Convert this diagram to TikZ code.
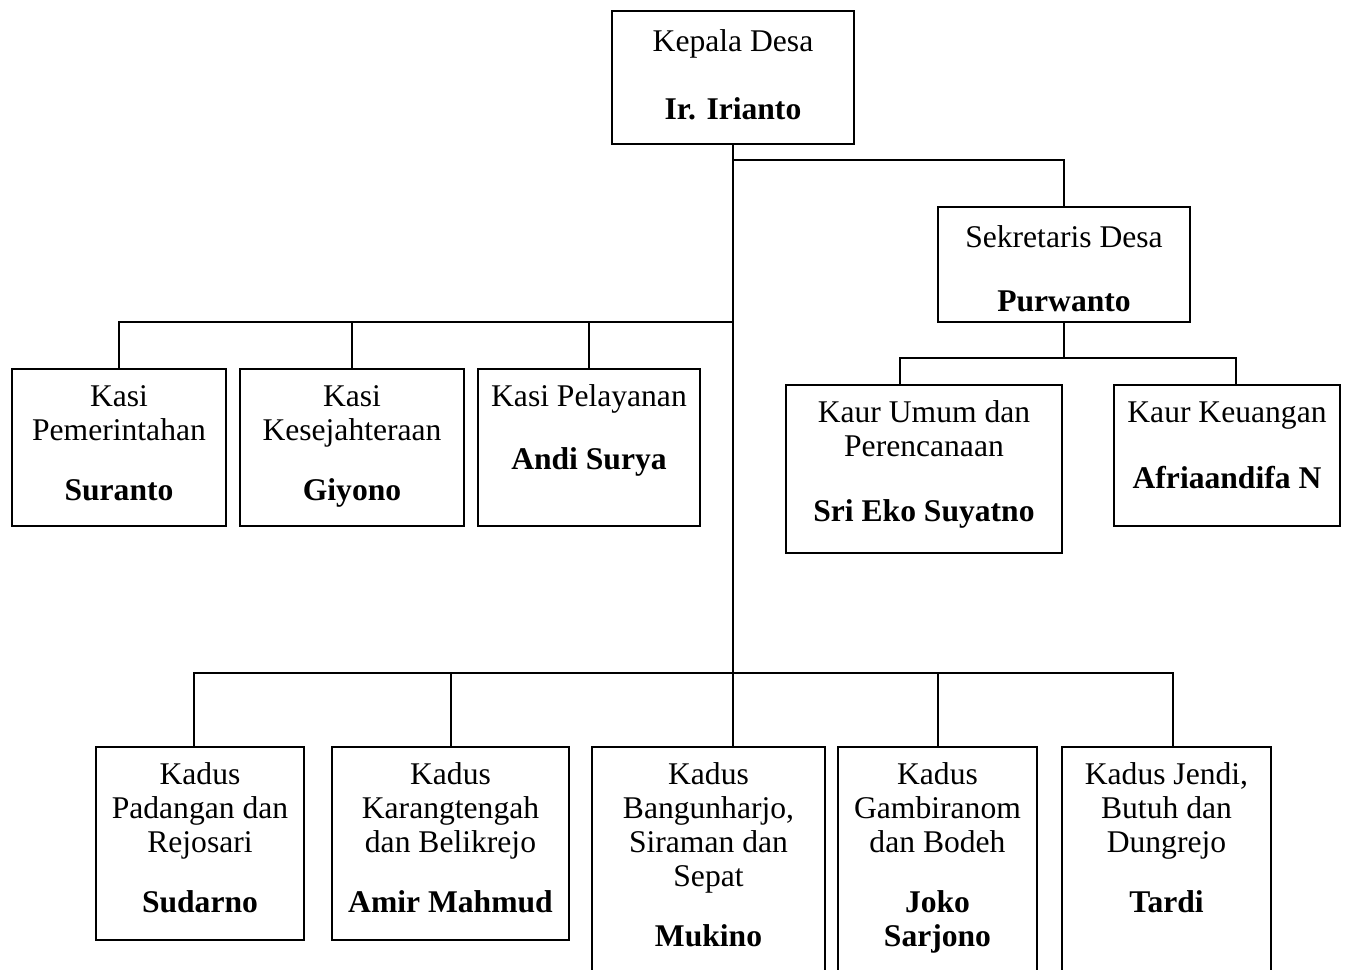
\documentclass[tikz,border=0pt]{standalone}
\usepackage{fontspec}
\setmainfont{Liberation Serif}
\usetikzlibrary{calc}

% isi kotak: lebar, tinggi, teks
\newcommand{\isi}[3]{\parbox[c][#2][t]{#1}{\centering\rule{0pt}{18.5pt}#3}}

\begin{document}
\begin{tikzpicture}[x=0.5pt,y=-0.5pt,
  kt/.style={draw,line width=1pt,inner sep=0pt,anchor=north west,
    font=\fontsize{15.8}{17}\selectfont},
  gr/.style={line width=1pt}]
  \useasboundingbox (0,0) rectangle (1346,970);
  % pimpinan
  \node[kt] (kades) at (611,10) {\isi{121pt}{66.5pt}{\rule{0pt}{20pt}Kepala Desa\\[17pt]\textbf{Ir. Irianto}}};
  \node[kt] (sekdes) at (937,206) {\isi{126pt}{57.5pt}{\rule{0pt}{20pt}Sekretaris Desa\\[15pt]\textbf{Purwanto}}};
  \node[kt] (kaurUm) at (785,384) {\isi{138pt}{84pt}{Kaur Umum dan\\Perencanaan\\[15.5pt]\textbf{Sri Eko Suyatno}}};
  \node[kt] (kaurKeu) at (1113,384) {\isi{113pt}{70.5pt}{Kaur Keuangan\\[16pt]\textbf{Afriaandifa N}}};
  % kasi
  \node[kt] (kasiPem) at (11,368) {\isi{107pt}{78.5pt}{Kasi\\Pemerintahan\\[13pt]\textbf{Suranto}}};
  \node[kt] (kasiKes) at (239,368) {\isi{112pt}{78.5pt}{Kasi\\Kesejahteraan\\[13pt]\textbf{Giyono}}};
  \node[kt] (kasiPel) at (477,368) {\isi{111pt}{78.5pt}{Kasi Pelayanan\\[14.5pt]\textbf{Andi Surya}}};
  % kadus
  \node[kt] (kdPad) at (95,746) {\isi{104pt}{96.5pt}{Kadus\\Padangan dan\\Rejosari\\[13pt]\textbf{Sudarno}}};
  \node[kt] (kdKar) at (331,746) {\isi{118.5pt}{96.5pt}{Kadus\\Karangtengah\\dan Belikrejo\\[13pt]\textbf{Amir Mahmud}}};
  \node[kt] (kdBang) at (591,746) {\isi{116.5pt}{122pt}{Kadus\\Bangunharjo,\\Siraman dan\\Sepat\\[13pt]\textbf{Mukino}}};
  \node[kt] (kdGam) at (837,746) {\isi{99.5pt}{122pt}{Kadus\\Gambiranom\\dan Bodeh\\[13pt]\textbf{Joko}\\\textbf{Sarjono}}};
  \node[kt] (kdJen) at (1061,746) {\isi{104.5pt}{122pt}{Kadus Jendi,\\Butuh dan\\Dungrejo\\[13pt]\textbf{Tardi}}};
  % garis
  \coordinate (cabSek) at (kades.south |- 0,160);
  \coordinate (busKasi) at (kades.south |- 0,322);
  \coordinate (busKaur) at (sekdes.south |- 0,358);
  \coordinate (busKadus) at (kades.south |- 0,673);
  \draw[gr] (kades.south) -- (kades.south |- kdBang.north);
  \draw[gr] (cabSek) -| (sekdes.north);
  \foreach \n in {kasiPem,kasiKes,kasiPel}
    \draw[gr] (\n.north) |- (busKasi);
  \draw[gr] (sekdes.south) -- (busKaur);
  \draw[gr] ([xshift=-12pt]kaurUm.north) |- (busKaur);
  \draw[gr] ([xshift=4.5pt]kaurKeu.north) |- (busKaur);
  \draw[gr] ([xshift=-3pt]kdPad.north) |- (busKadus);
  \draw[gr] (kdKar.north) |- (busKadus);
  \draw[gr] (kdGam.north) |- (busKadus);
  \draw[gr] ([xshift=3pt]kdJen.north) |- (busKadus);
\end{tikzpicture}
\end{document}
